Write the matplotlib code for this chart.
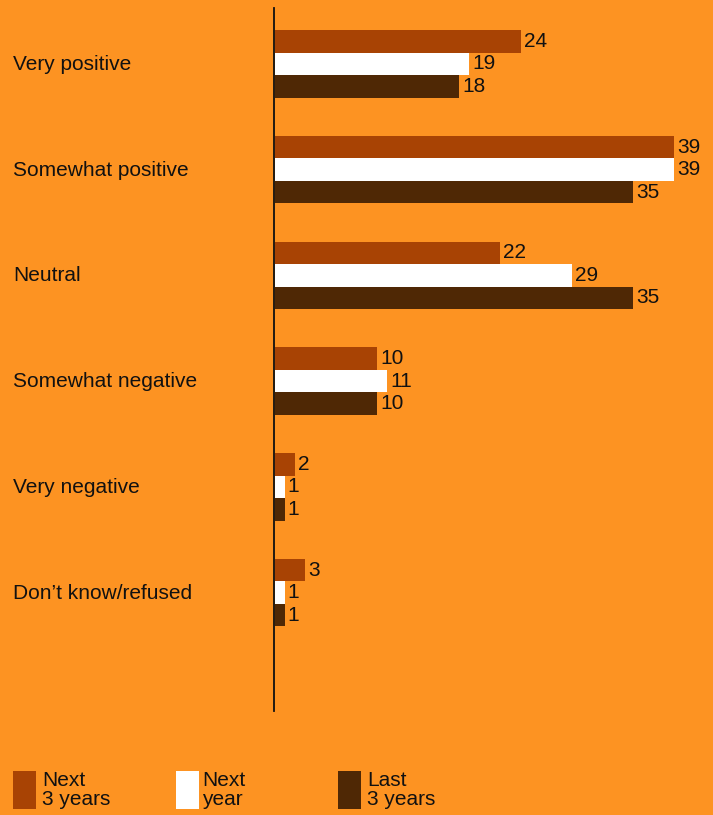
import matplotlib
matplotlib.use("Agg")
import matplotlib.pyplot as plt
from matplotlib.patches import Rectangle
import matplotlib.transforms as mtransforms

plt.rcParams['font.family'] = ['Liberation Sans', 'DejaVu Sans']

categories = ["Very positive", "Somewhat positive", "Neutral",
              "Somewhat negative", "Very negative", "Don\u2019t know/refused"]
series_names = ["Next\n3 years", "Next\nyear", "Last\n3 years"]
next_3_years = [24, 39, 22, 10, 2, 3]
next_year = [19, 39, 29, 11, 1, 1]
last_3_years = [18, 35, 35, 10, 1, 1]

bg = "#FD9322"
colors = ["#A84304", "#FFFFFF", "#4F2805"]

W, H = 713, 815
fig = plt.figure(figsize=(W / 100, H / 100), dpi=100, facecolor=bg)

ax_left, ax_top, ax_bottom = 274, 8, 711
ax = fig.add_axes([ax_left / W, 1 - ax_bottom / H, 1 - ax_left / W, (ax_bottom - ax_top) / H])
ax.set_facecolor(bg)

h = 0.2127
fs = 15
series = [next_3_years, next_year, last_3_years]
for k, (vals, col) in enumerate(zip(series, colors)):
    off = (k - 1) * h
    ys = [i + off for i in range(len(categories))]
    ax.barh(ys, vals, height=h, color=col, edgecolor='none', left=0.05)
    for y, v in zip(ys, vals):
        ax.text(v + 0.35, y, str(v), va='center', ha='left', fontsize=fs, color='#111111')

ax.set_xlim(0, (W - ax_left) / 10.25)
ax.set_ylim(6.118, -0.527)
for s in ['top', 'right', 'bottom']:
    ax.spines[s].set_visible(False)
ax.spines['left'].set_color('#111111')
ax.spines['left'].set_linewidth(1.3)
ax.set_xticks([])
ax.set_yticks([])

trans = mtransforms.blended_transform_factory(fig.transFigure, ax.transData)
for i, c in enumerate(categories):
    ax.text(13 / W, i + 0.005, c, transform=trans, va='center', ha='left',
            fontsize=fs, color='#111111')

# legend
leg_x = [13, 176, 338]
txt_x = [42, 202, 367]
for sx, tx, name, col in zip(leg_x, txt_x, series_names, colors):
    fig.patches.append(Rectangle((sx / W, 1 - 809 / H), 23 / W, 38 / H,
                                 transform=fig.transFigure, facecolor=col,
                                 edgecolor='none'))
    fig.text(tx / W, 1 - 771 / H, name, va='top', ha='left', fontsize=fs,
             color='#111111', linespacing=1.0)

fig.savefig("out.png", dpi=100, facecolor=bg)
